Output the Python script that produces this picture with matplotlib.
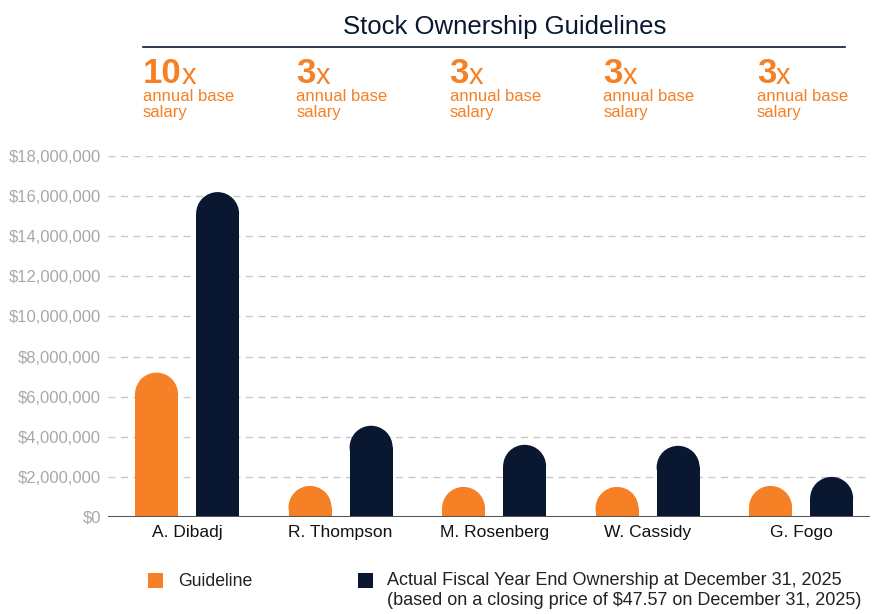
import matplotlib.pyplot as plt
import matplotlib.patches as mpatches
import matplotlib.transforms as mtransforms
from matplotlib.ticker import FuncFormatter

# ownership data (USD)
executives = ['A. Dibadj', 'R. Thompson', 'M. Rosenberg', 'W. Cassidy', 'G. Fogo']
multiples = ['10', '3', '3', '3', '3']
guideline = [7200000, 1550000, 1500000, 1500000, 1550000]
actual = [16200000, 4550000, 3600000, 3550000, 2000000]
y_ticks = [0, 2000000, 4000000, 6000000, 8000000, 10000000,
           12000000, 14000000, 16000000, 18000000]

ORANGE = '#F58025'
NAVY = '#0A1730'
GRID = '#C8C8C8'
TICK = '#A8A8A8'
FONT = 'Liberation Sans'

W, H = 873, 614
fig = plt.figure(figsize=(W / 100, H / 100), dpi=100)
plt.rcParams['font.family'] = FONT


def fx(px):
    return px / W


def fy(py):
    return 1 - py / H


# axes box in pixels: left 108, right 870, top 156, bottom 517
ax = fig.add_axes([fx(108), fy(517), fx(870 - 108), (517 - 156) / H])
xmin, xmax = -0.515, 4.449
ymin, ymax = 0, 18000000
ax.set_xlim(xmin, xmax)
ax.set_ylim(ymin, ymax)

bar_w = 0.28
offset = 0.199
# vertical radius of the rounded cap, in data units
px_per_x = (870 - 108) / (xmax - xmin)
px_per_y = (517 - 156) / (ymax - ymin)
cap_r = (bar_w / 2) * px_per_x / px_per_y


def rounded_bar(x, value, color):
    body = max(value - cap_r, 0)
    ax.bar(x, body, width=bar_w, color=color, linewidth=0, zorder=3)
    ax.add_patch(mpatches.Ellipse((x, body), bar_w, 2 * cap_r,
                                  facecolor=color, linewidth=0, zorder=3))


for i in range(len(executives)):
    rounded_bar(i - offset, guideline[i], ORANGE)
    rounded_bar(i + offset, actual[i], NAVY)

# grid and axes styling
for y in y_ticks[1:]:
    ax.axhline(y, color=GRID, linewidth=1, linestyle=(0, (5, 4)), zorder=1)
ax.axhline(0, color='#555555', linewidth=1.5, zorder=4)
for s in ax.spines.values():
    s.set_visible(False)
ax.set_yticks(y_ticks)
ax.yaxis.set_major_formatter(FuncFormatter(lambda v, p: '${:,.0f}'.format(v)))
ax.tick_params(axis='y', length=0, pad=5, labelsize=12, labelcolor=TICK)
ax.set_xticks(range(len(executives)))
ax.set_xticklabels(executives)
ax.tick_params(axis='x', length=0, pad=6, labelsize=12.5, labelcolor='#111111')

# title with rule underneath
fig.text(fx(505), fy(27), 'Stock Ownership Guidelines', ha='center', va='center',
         fontsize=18.5, color=NAVY)
fig.add_artist(plt.Line2D([fx(143), fx(845)], [fy(47), fy(47)],
                          color=NAVY, linewidth=1.2))

# multiple of base salary above each executive
trans = mtransforms.blended_transform_factory(ax.transData, fig.transFigure)
for i, m in enumerate(multiples):
    x0 = i - offset - bar_w / 2 + 0.05
    t = ax.text(x0, fy(83), m, transform=trans, ha='left', va='baseline',
                fontsize=25, fontweight='bold', color=ORANGE)
    ax.annotate('x', xy=(1, 0), xycoords=t, ha='left', va='bottom',
                fontsize=21, color=ORANGE)
    ax.text(x0, fy(89), 'annual base\nsalary', transform=trans, ha='left', va='top',
            fontsize=12, color=ORANGE, linespacing=1.1)

# legend
fig.add_artist(mpatches.Rectangle((fx(148), fy(588)), fx(15), 15 / H,
                                  facecolor=ORANGE, transform=fig.transFigure))
fig.text(fx(178), fy(581), 'Guideline', ha='left', va='center',
         fontsize=12.7, color='#222222')
fig.add_artist(mpatches.Rectangle((fx(358), fy(588)), fx(15), 15 / H,
                                  facecolor=NAVY, transform=fig.transFigure))
fig.text(fx(387), fy(572), 'Actual Fiscal Year End Ownership at December 31, 2025\n'
         '(based on a closing price of $47.57 on December 31, 2025)',
         ha='left', va='top', fontsize=13, color='#222222', linespacing=1.25)

fig.savefig('out.png', dpi=100)
